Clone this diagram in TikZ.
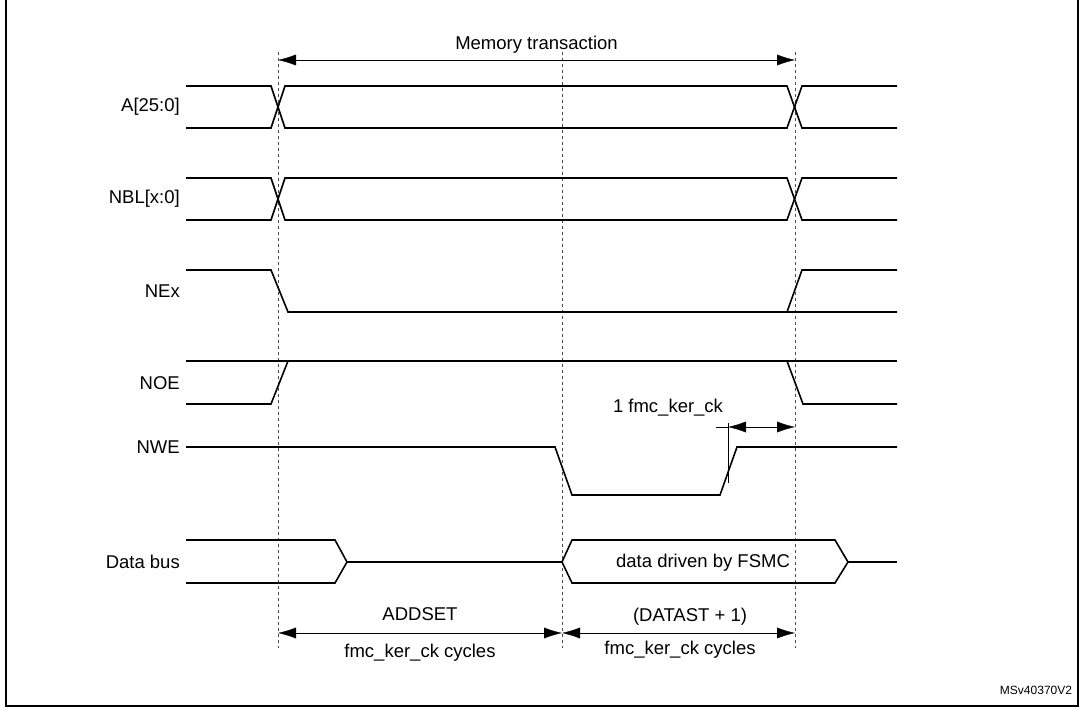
\documentclass[tikz,border=0pt]{standalone}
\usepackage{fontspec}
\setmainfont{Liberation Sans}
\usetikzlibrary{positioning, arrows.meta, calc}

\begin{document}
\begin{tikzpicture}[
        x=1pt, y=-1pt,
        font=\fontsize{18.5}{22}\selectfont,
        wave/.style={line width=1.6pt},
        guide/.style={dashed, thin, black!70},
        dim/.style={{Latex[length=18pt,width=11pt]}-{Latex[length=18pt,width=11pt]}, thin},
        lbl/.style={anchor=east, inner sep=0pt}
    ]
        \useasboundingbox (0,0) rectangle (1085,708);
        \draw[line width=1.5pt] (6,-10) rectangle (1078,706);

        % Guides
        \foreach \gx in {278, 562, 795}
            \draw[guide] (\gx,52) -- (\gx,648);

        % Memory transaction
        \coordinate (mtl) at (278,60);
        \coordinate (mtr) at (795,60);
        \draw[dim] (mtl) -- (mtr) node[midway, above=3pt] {Memory transaction};

        % Bus rows
        \foreach \hi/\txt in {86/{A[25:0]}, 178/{NBL[x:0]}} {
            \node[lbl] at (180,\hi+21) {\txt};
            \draw[wave] (186,\hi) -- (271,\hi) -- (285,\hi+42) -- (787,\hi+42) -- (802,\hi) -- (897,\hi);
            \draw[wave] (186,\hi+42) -- (271,\hi+42) -- (285,\hi) -- (787,\hi) -- (802,\hi+42) -- (897,\hi+42);
        }

        % NEx
        \node[lbl] at (180,291) {NEx};
        \draw[wave] (186,270) -- (271,270) -- (288,312) -- (897,312);
        \draw[wave] (787,312) -- (802,270) -- (897,270);

        % NOE
        \node[lbl] at (180,383) {NOE};
        \draw[wave] (186,404) -- (271,404) -- (288,361);
        \draw[wave] (186,361) -- (897,361);
        \draw[wave] (787,361) -- (803,404) -- (897,404);

        % NWE
        \node[lbl] at (180,447) {NWE};
        \draw[wave] (186,447) -- (555,447) -- (572,495) -- (720,495) -- (737,447) -- (897,447);
        \coordinate (ckl) at (728,427);
        \coordinate (ckr) at (795,427);
        \draw[thin] (728,423) -- (728,483);
        \draw[thin] (716,427) -- (ckl);
        \draw[dim] (ckl) -- (ckr);
        \node at (668,408) {1 fmc\_ker\_ck};

        % Data bus
        \node[lbl] at (180,562) {Data bus};
        \draw[wave] (186,540) -- (335,540) -- (347,562) -- (335,583) -- (186,583);
        \draw[wave] (347,562) -- (562,562);
        \draw[wave] (562,562) -- (572,540) -- (835,540) -- (848,562) -- (835,583) -- (572,583) -- cycle;
        \draw[wave] (848,562) -- (897,562);
        \node at (703,563) {data driven by FSMC};

        % Durations
        \coordinate (d1) at (278,633);
        \coordinate (d2) at (562,633);
        \coordinate (d3) at (795,633);
        \draw[dim] (d1) -- (d2);
        \draw[dim] (d2) -- (d3);
        \node at (420,614) {ADDSET};
        \node at (420,653) {fmc\_ker\_ck cycles};
        \node at (690,617) {(DATAST + 1)};
        \node at (680,650) {fmc\_ker\_ck cycles};

        \node[font=\fontsize{12}{14}\selectfont] at (1036,690) {MSv40370V2};
    \end{tikzpicture}
\end{document}
